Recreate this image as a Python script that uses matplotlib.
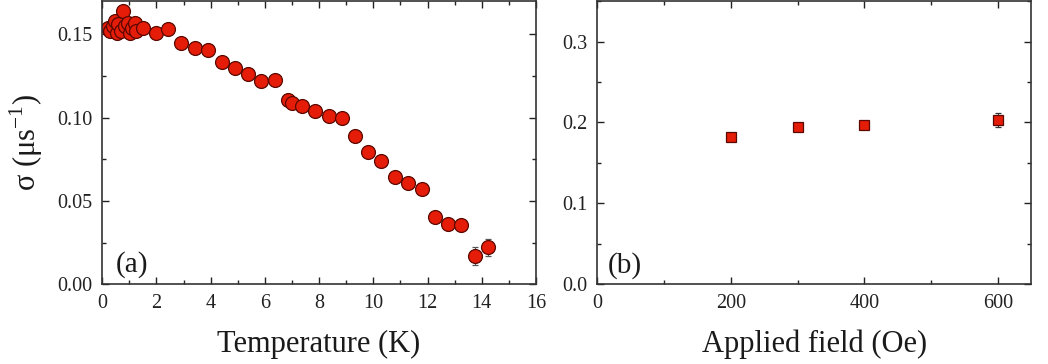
import numpy as np
import matplotlib
matplotlib.use("Agg")
import matplotlib.pyplot as plt
from matplotlib.ticker import MultipleLocator, FormatStrFormatter

plt.rcParams['font.family'] = ['Liberation Serif', 'DejaVu Serif']
plt.rcParams['mathtext.fontset'] = 'custom'
plt.rcParams['mathtext.rm'] = 'Liberation Serif'

# panel (a): sigma vs temperature
temp = [0.22, 0.3, 0.4, 0.46, 0.55, 0.6, 0.7, 0.77, 0.85, 0.95, 1.02, 1.1, 1.2, 1.26, 1.5,
        1.97, 2.43, 2.92, 3.41, 3.92, 4.41, 4.88, 5.38, 5.86, 6.39, 6.87, 6.99, 7.37,
        7.85, 8.35, 8.83, 9.32, 9.81, 10.30, 10.79, 11.28, 11.79, 12.27, 12.77, 13.25,
        13.75, 14.23]
sigma = [0.154, 0.152, 0.155, 0.158, 0.151, 0.156, 0.152, 0.164, 0.155, 0.157, 0.151, 0.154,
         0.157, 0.152, 0.154,
         0.151, 0.153, 0.145, 0.1416, 0.1406, 0.1333, 0.130, 0.126, 0.1219, 0.1229, 0.1109,
         0.1089, 0.1069, 0.1043, 0.1009, 0.0999, 0.0892, 0.0792, 0.0742, 0.0644, 0.0608,
         0.0572, 0.0403, 0.0363, 0.0357, 0.0170, 0.0222]
sigma_err = [0.002] * 15 + [0.002] * 25 + [0.0055, 0.005]

# panel (b): sigma vs applied field
field = [200, 300, 400, 600]
sigma_b = [0.182, 0.194, 0.1964, 0.203]
sigma_b_err = [0.004, 0.004, 0.004, 0.009]

fig = plt.figure(figsize=(10.48, 3.64), dpi=100)
ax1 = fig.add_axes([0.0975, 0.219, 0.414, 0.778])
ax2 = fig.add_axes([0.570, 0.219, 0.414, 0.778])

face = '#e41c08'
edge = '#5a0800'

ax1.errorbar(temp, sigma, yerr=sigma_err, fmt='o', ms=10, mfc=face, mec=edge, mew=0.9,
             ecolor='#555555', elinewidth=0.8, capsize=2, capthick=0.8)
ax2.errorbar(field, sigma_b, yerr=sigma_b_err, fmt='s', ms=7.5, mfc=face, mec=edge, mew=0.9,
             ecolor='#333333', elinewidth=0.8, capsize=2, capthick=0.8)

ax1.set_xlim(0, 16)
ax1.set_ylim(0, 0.17)
ax1.xaxis.set_major_locator(MultipleLocator(2))
ax1.xaxis.set_minor_locator(MultipleLocator(1))
ax1.yaxis.set_major_locator(MultipleLocator(0.05))
ax1.yaxis.set_minor_locator(MultipleLocator(0.025))
ax1.yaxis.set_major_formatter(FormatStrFormatter('%.2f'))

ax2.set_xlim(0, 650)
ax2.set_ylim(0, 0.35)
ax2.xaxis.set_major_locator(MultipleLocator(200))
ax2.xaxis.set_minor_locator(MultipleLocator(100))
ax2.yaxis.set_major_locator(MultipleLocator(0.1))
ax2.yaxis.set_minor_locator(MultipleLocator(0.05))
ax2.yaxis.set_major_formatter(FormatStrFormatter('%.1f'))

for ax in (ax1, ax2):
    ax.tick_params(which='both', direction='in', top=True, right=True,
                   labelsize=14.5, colors='#222222', width=1.0, pad=7)
    ax.tick_params(which='major', length=5)
    ax.tick_params(which='minor', length=3)
    for s in ax.spines.values():
        s.set_linewidth(1.2)
        s.set_color('#333333')

ax1.set_xlabel('Temperature (K)', fontsize=22, labelpad=12, color='#1a1a1a')
ax1.set_ylabel(r'σ (μs$^{\mathregular{-1}}$)', fontsize=22, labelpad=9, color='#1a1a1a')
ax2.set_xlabel('Applied field (Oe)', fontsize=22, labelpad=12, color='#1a1a1a')

ax1.text(0.032, 0.043, '(a)', transform=ax1.transAxes, fontsize=21, color='#1a1a1a')
ax2.text(0.025, 0.04, '(b)', transform=ax2.transAxes, fontsize=21, color='#1a1a1a')

fig.savefig('out.png', dpi=100)
